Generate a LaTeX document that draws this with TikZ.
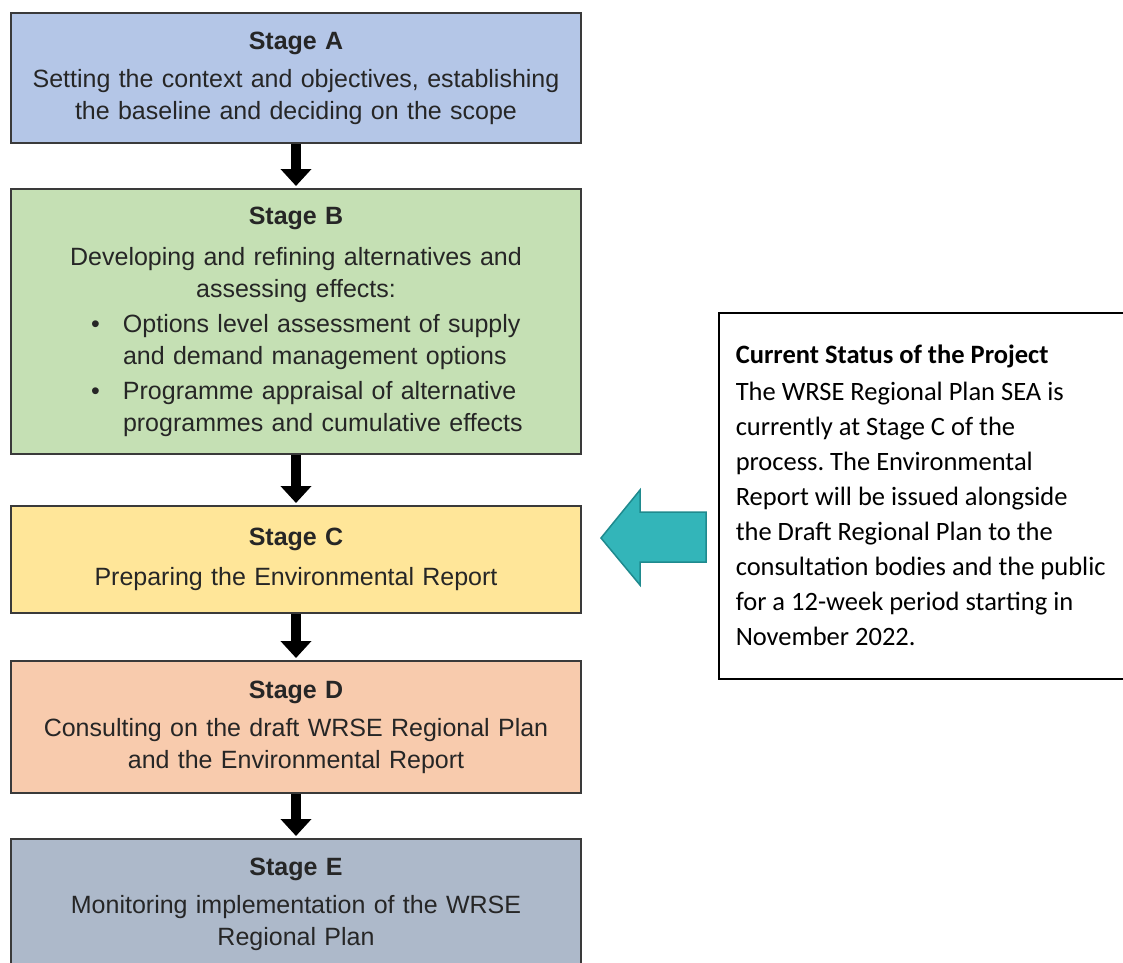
\documentclass[tikz,border=0pt]{standalone}
\usepackage{fontspec}
\setmainfont{Liberation Sans}
\newfontfamily\calibri{Carlito}
\usetikzlibrary{positioning,arrows.meta}
\definecolor{stageA}{HTML}{B4C6E7}
\definecolor{stageB}{HTML}{C5E0B4}
\definecolor{stageC}{HTML}{FFE699}
\definecolor{stageD}{HTML}{F8CBAD}
\definecolor{stageE}{HTML}{ADB9CA}
\definecolor{boxline}{HTML}{3A3A3A}
\definecolor{textgrey}{HTML}{262626}
\definecolor{pointer}{HTML}{33B5B9}
\definecolor{pointerline}{HTML}{1F8A8E}
\frenchspacing
% bullet lines inside the Stage B box
\newcommand{\bitem}[1]{\makebox[540pt][l]{\hspace{65pt}\makebox[32pt][l]{\textbullet}#1}}
\newcommand{\bcont}[1]{\makebox[540pt][l]{\hspace{97pt}#1}}

\begin{document}
\begin{tikzpicture}[x=1pt,y=-1pt,
  stagebox/.style={draw=boxline,line width=2pt,anchor=north west,
    text width=540pt,inner xsep=15pt,align=center,text=textgrey,
    font=\fontsize{25}{32}\selectfont},
  arr/.style={-{Triangle[width=30pt,length=17pt]},line width=10pt,shorten >=2pt},
  status/.style={draw,line width=1.5pt,anchor=north west,text width=380pt,
    inner xsep=17pt,minimum height=366pt,align=flush left,
    font=\calibri\fontsize{26.5}{35}\selectfont}]
\clip (0,0) rectangle (1123,962);

\node[stagebox,fill=stageA,minimum height=130pt] (stA) at (10,12)
  {{\bfseries Stage A}\\[6pt]
   Setting the context and objectives, establishing\\
   the baseline and deciding on the scope};
\node[stagebox,fill=stageB,minimum height=265pt] (stB) at (10,188)
  {{\bfseries Stage B}\\[9pt]
   Developing and refining alternatives and\\
   assessing effects:\\[3pt]
   \bitem{Options level assessment of supply}\\
   \bcont{and demand management options}\\[3pt]
   \bitem{Programme appraisal of alternative}\\
   \bcont{programmes and cumulative effects}};
\node[stagebox,fill=stageC,minimum height=107pt] (stC) at (10,505)
  {{\bfseries Stage C}\\[8pt]
   Preparing the Environmental Report};
\node[stagebox,fill=stageD,minimum height=132pt] (stD) at (10,660)
  {{\bfseries Stage D}\\[6pt]
   Consulting on the draft WRSE Regional Plan\\
   and the Environmental Report};
\node[stagebox,fill=stageE,minimum height=130pt] (stE) at (10,838)
  {{\bfseries Stage E}\\[6pt]
   Monitoring implementation of the WRSE\\
   Regional Plan};

\draw[arr] (stA) -- (stB);
\draw[arr] (stB) -- (stC);
\draw[arr] (stC) -- (stD);
\draw[arr] (stD) -- (stE);

% status note and the pointer towards Stage C
\node[status] (note) at (718,312)
  {{\bfseries Current Status of the Project}\\[2pt]
   The WRSE Regional Plan SEA is\\
   currently at Stage C of the\\
   process. The Environmental\\
   Report will be issued alongside\\
   the Draft Regional Plan to the\\
   consultation bodies and the public\\
   for a 12-week period starting in\\
   November 2022.};
\filldraw[fill=pointer,draw=pointerline,line width=1.5pt]
  (601,538) -- (640,490) -- (640,512) -- (706,512) -- (706,562)
  -- (640,562) -- (640,585) -- cycle;
\end{tikzpicture}
\end{document}
